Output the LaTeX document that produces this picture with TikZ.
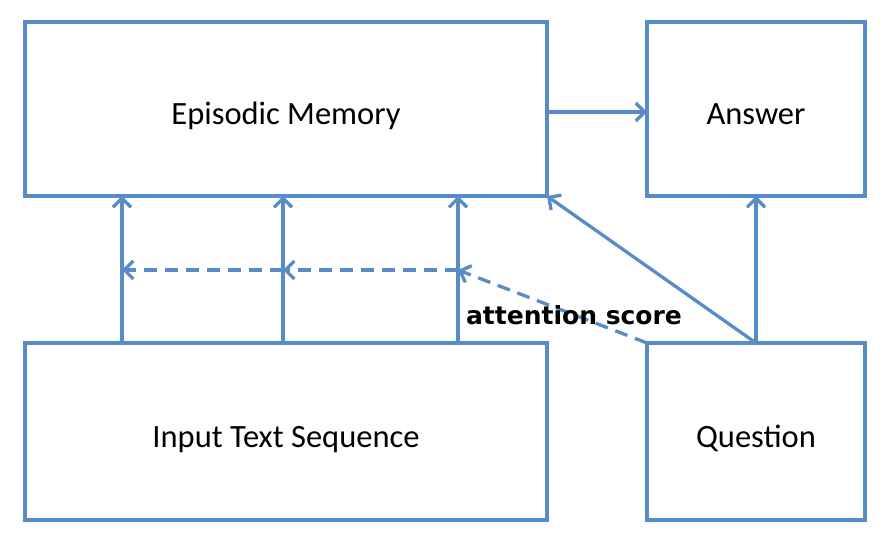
\documentclass[tikz,border=0pt]{standalone}
\usepackage{fontspec}
\setmainfont{Carlito}
\newfontfamily\scorefont{DejaVu Sans}
\usetikzlibrary{positioning,arrows.meta}
\definecolor{boxblue}{RGB}{88,140,200}

\begin{document}
\begin{tikzpicture}[x=1pt,y=1pt]

\tikzset{%
every node/.style={font=\fontsize{32.5}{36}\selectfont, inner sep=0pt, outer sep=0pt},%
every path/.style={line width=3.3pt}%
}

\tikzstyle{block}=[draw=boxblue, minimum width=522pt, minimum height=174pt, text height=31pt, text depth=0pt]
\tikzstyle{small}=[block, minimum width=218pt]
\tikzstyle{link}=[draw=boxblue, -{Straight Barb[length=9pt,width=18pt,line width=3.3pt]}]
\tikzstyle{score}=[link, dash pattern=on 13pt off 8pt]
\tikzstyle{scoretext}=[font=\scorefont\bfseries\fontsize{25}{28}\selectfont]

\useasboundingbox (0,0) rectangle (885,538);

\node[block] (mem) at (286,429) {Episodic Memory};
\node[small, right=100pt of mem] (ans) {Answer};
\draw[link] ([yshift=-3pt]mem.east) to ([yshift=-3pt]ans.west);

\node[block, minimum height=177pt, below=147pt of mem] (seq) {Input Text Sequence};
\node[small, minimum height=177pt, right=100pt of seq] (ques) {Question};
\draw[link] (ques.north) to (ans.south);
\draw[link] (ques.north) to (mem.south east);

% one arrow per input position
\foreach \dx/\n in {97/a, 258/b, 433/c}{
  \coordinate (in\n) at ([xshift=\dx pt]seq.north west);
  \coordinate (mem\n) at ([xshift=\dx pt]mem.south west);
  \coordinate (att\n) at ([xshift=\dx pt, yshift=73pt]seq.north west);
  \draw[link] (in\n) to (mem\n);
}

\draw[score] (ques.north west) to (attc);
\draw[score] (attc) to (attb);
\draw[score] (attb) to (atta);

\node[scoretext] (attn) at (574,223) {attention score};

\end{tikzpicture}
\end{document}
